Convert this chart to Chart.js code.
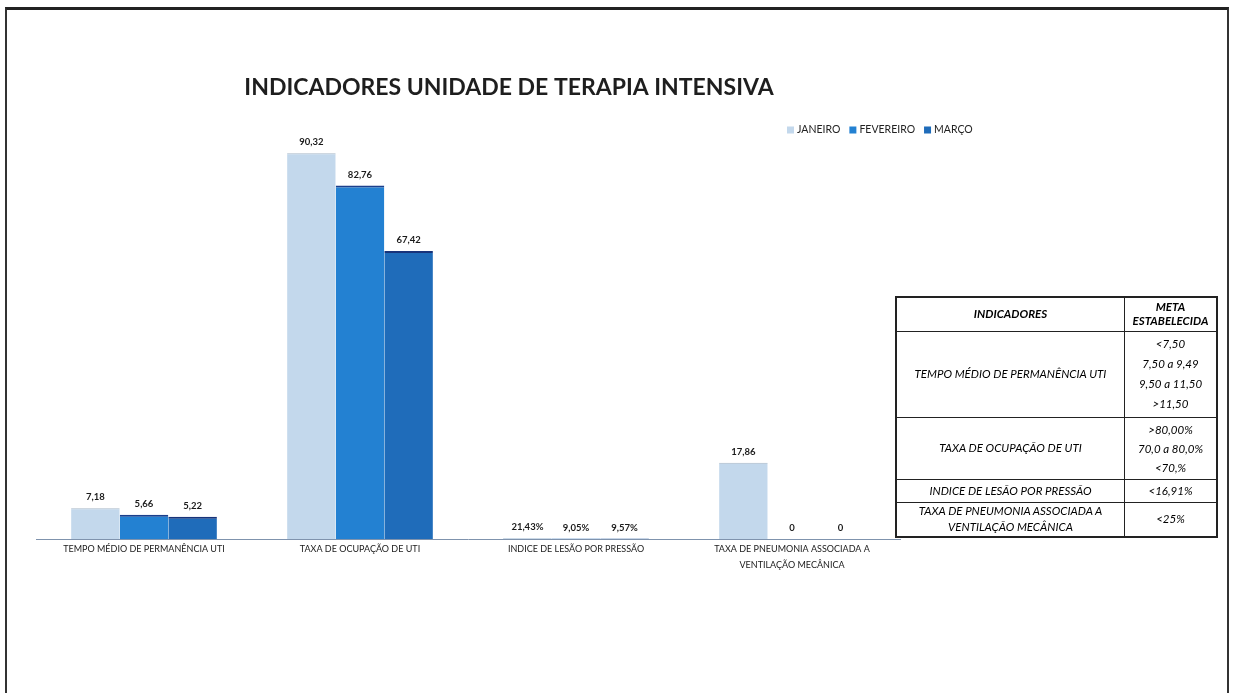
<!DOCTYPE html>
<html>
<head>
<meta charset="utf-8">
<script src="https://cdn.jsdelivr.net/npm/chart.js@4.4.1/dist/chart.umd.min.js"></script>
<style>
  html, body { margin:0; padding:0; background:#fff; }
  body { width:1237px; height:693px; position:relative; overflow:hidden; }
  #frame { position:absolute; left:5px; top:7px; width:1224px; height:700px;
           border-left:2px solid #333; border-right:2px solid #333; border-top:3px solid #222; box-sizing:border-box; }
  #wrap { position:absolute; left:0; top:0; width:1237px; height:693px; }
  #meta { position:absolute; left:895px; top:296px; width:323px; border-collapse:collapse;
          border:2px solid #222; font-family:Lato, "Open Sans", sans-serif; font-style:italic; font-size:11.5px; color:#000; }
  #meta td { border:1px solid #222; text-align:center; vertical-align:middle; padding:0 2px; line-height:14px; }
  #meta td:first-child { width:223px; }
  #meta tr:nth-child(1) { height:34px; }
  #meta tr:nth-child(1) td { font-weight:bold; }
  #meta tr:nth-child(2) { height:86px; }
  #meta tr:nth-child(2) td:last-child { line-height:20px; }
  #meta tr:nth-child(3) { height:62px; }
  #meta tr:nth-child(3) td:last-child { line-height:19px; }
  #meta tr:nth-child(4) { height:23px; }
  #meta tr:nth-child(5) { height:35px; }
  #meta tr:nth-child(5) td:first-child { line-height:16px; }
</style>
</head>
<body>
<div id="frame"></div>
<div id="wrap"><canvas id="c" width="1237" height="693"></canvas></div>
<table id="meta"></table>
<script>
// ---- data ----
const chartTitle = "INDICADORES UNIDADE DE TERAPIA INTENSIVA";
const categories = [
  ["TEMPO MÉDIO DE PERMANÊNCIA UTI"],
  ["TAXA DE OCUPAÇÃO DE UTI"],
  ["INDICE DE LESÃO POR PRESSÃO"],
  ["TAXA DE PNEUMONIA ASSOCIADA A", "VENTILAÇÃO MECÂNICA"]
];
const seriesNames = ["JANEIRO", "FEVEREIRO", "MARÇO"];
const janeiro   = [7.18, 90.32, 0.2143, 17.86];
const fevereiro = [5.66, 82.76, 0.0905, 0];
const marco     = [5.22, 67.42, 0.0957, 0];
const percentCategory = [false, false, true, false];

const tableHeader = [["INDICADORES"], ["META", "ESTABELECIDA"]];
const tableIndicators = [
  ["TEMPO MÉDIO DE PERMANÊNCIA UTI"],
  ["TAXA DE OCUPAÇÃO DE UTI"],
  ["INDICE DE LESÃO POR PRESSÃO"],
  ["TAXA DE PNEUMONIA ASSOCIADA A", "VENTILAÇÃO MECÂNICA"]
];
const tableGoals = [
  ["<7,50", "7,50 a 9,49", "9,50 a 11,50", ">11,50"],
  [">80,00%", "70,0 a 80,0%", "<70,%"],
  ["<16,91%"],
  ["<25%"]
];

// ---- table ----
const tbl = document.getElementById('meta');
function addRow(a, b) {
  const tr = document.createElement('tr');
  [a, b].forEach(lines => {
    const td = document.createElement('td');
    lines.forEach((l, i) => { if (i) td.appendChild(document.createElement('br')); td.appendChild(document.createTextNode(l)); });
    tr.appendChild(td);
  });
  tbl.appendChild(tr);
}
addRow(tableHeader[0], tableHeader[1]);
tableIndicators.forEach((ind, i) => addRow(ind, tableGoals[i]));

// ---- chart ----
const colors = ['#c3d8ec', '#2381d2', '#1f6cba'];
const topBorders = ['#a8b8c8', '#1b3f8c', '#17337a'];
const seriesData = [janeiro, fevereiro, marco];

function fmt(v, i) {
  if (v === 0) return "0";
  if (percentCategory[i]) return (v * 100).toFixed(2).replace('.', ',') + '%';
  return v.toFixed(2).replace('.', ',');
}

const decor = {
  id: 'decor',
  afterDatasetsDraw(chart) {
    const ctx = chart.ctx;
    ctx.save();
    // data labels
    ctx.font = 'bold 9.5px Lato, "Open Sans", sans-serif';
    ctx.fillStyle = '#1a1a1a';
    ctx.textAlign = 'center';
    ctx.textBaseline = 'middle';
    chart.data.datasets.forEach((ds, di) => {
      chart.getDatasetMeta(di).data.forEach((bar, i) => {
        ctx.fillText(fmt(ds.data[i], i), bar.x, bar.y - 11);
      });
    });
    // title
    ctx.font = 'bold 23px Lato, "Open Sans", sans-serif';
    ctx.fillStyle = '#1e1e1e';
    ctx.textAlign = 'center';
    ctx.fillText(chartTitle, 509, 88);
    // legend
    ctx.font = '10.5px Lato, "Open Sans", sans-serif';
    ctx.textAlign = 'left';
    let x = 787;
    const y = 130;
    chart.data.datasets.forEach((ds) => {
      ctx.fillStyle = ds.backgroundColor;
      ctx.fillRect(x, y - 3.5, 7, 7);
      x += 10;
      ctx.fillStyle = '#222';
      ctx.fillText(ds.label, x, y);
      x += ctx.measureText(ds.label).width + 9;
    });
    ctx.restore();
  }
};

new Chart(document.getElementById('c'), {
  type: 'bar',
  data: {
    labels: categories,
    datasets: seriesData.map((d, i) => ({
      label: seriesNames[i],
      data: d,
      backgroundColor: colors[i],
      borderColor: topBorders[i],
      borderWidth: { top: i === 0 ? 1 : 2, left: 0, right: 0, bottom: 0 },
      borderSkipped: 'start',
      categoryPercentage: 0.675,
      barPercentage: 1.0
    }))
  },
  options: {
    responsive: false,
    animation: false,
    events: [],
    layout: { padding: { left: 36, right: 337, top: 112, bottom: 114 } },
    plugins: { legend: { display: false }, title: { display: false }, tooltip: { enabled: false } },
    scales: {
      x: {
        grid: { display: false, drawTicks: false },
        border: { display: true, color: '#7f93ad', width: 1, dash: [3, 2] },
        ticks: { color: '#1a1a1a', padding: 2, maxRotation: 0, autoSkip: false,
                 font: { family: 'Lato, "Open Sans", sans-serif', size: 9, lineHeight: 1.75 } },
        afterFit(scale) { scale.height = 40; }
      },
      y: { display: false, min: 0, max: 100 }
    }
  },
  plugins: [decor]
});
</script>
</body>
</html>
